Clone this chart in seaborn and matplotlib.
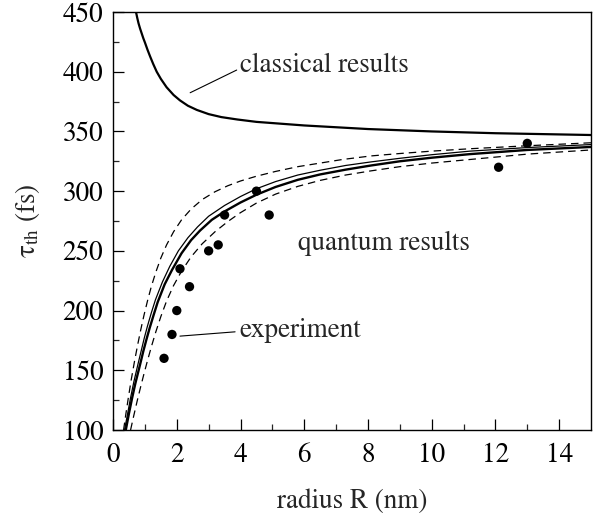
import numpy as np
import pandas as pd
import matplotlib
matplotlib.use("Agg")
import matplotlib.pyplot as plt
import seaborn as sns

# values
classical_r = [0.72, 0.76, 0.80, 0.85, 0.90, 0.95, 1.0, 1.08, 1.16, 1.26, 1.37, 1.5, 1.68, 1.9, 2.1,
               2.35, 2.63, 3.0, 3.4, 3.9, 4.5, 5.0, 6.0, 7.0, 8.0, 10.0, 12.0, 15.0]
classical_t = [450, 445, 440.5, 436, 432, 428, 424.5, 418.5, 413, 406.5, 400, 394, 387, 380.5, 376,
               371.5, 368, 364.5, 362, 360, 358, 357, 355, 353.5, 352, 350, 348.5, 347]

thick_r = [0.40, 0.50, 0.60, 0.70, 0.85, 0.95, 1.05, 1.15, 1.27, 1.40, 1.62, 1.85, 2.15, 2.45, 2.73,
           3.1, 3.5, 4.0, 4.5, 5.1, 5.8, 6.5, 7.3, 8.1, 9.0, 10.0, 11.2, 13.0, 15.0]
thick_t = [100, 114, 127, 139, 155, 166, 176, 185.5, 196, 207, 222, 234, 248, 259, 267,
           276, 283, 290.5, 297, 303.5, 309.5, 314, 318, 321.5, 325, 328, 331, 334.5, 337]

thin_r = [0.36, 0.46, 0.55, 0.65, 0.79, 0.89, 0.98, 1.08, 1.20, 1.33, 1.55, 1.78, 2.05, 2.35, 2.65,
          3.0, 3.5, 4.0, 4.5, 5.1, 5.8, 6.5, 7.3, 8.1, 9.0, 10.0, 11.2, 13.0, 15.0]
thin_t = [100, 114, 127, 140, 156, 167, 177, 187, 198, 209, 224, 237, 250, 261, 270,
          279, 288, 295.5, 302, 308, 313.5, 317.5, 321.5, 324.5, 327.5, 330.5, 333.5, 336.5, 339]

dash_up_r = [0.33, 0.40, 0.48, 0.57, 0.67, 0.77, 0.87, 0.97, 1.08, 1.20, 1.34, 1.50, 1.68, 1.90, 2.15,
             2.45, 2.8, 3.2, 3.6, 4.0, 4.5, 5.1, 5.8, 6.5, 7.2, 8.1, 9.0, 10.0, 11.2, 13.0, 15.0]
dash_up_t = [100, 113, 127, 142, 157, 171, 184, 196, 208, 220, 232, 244, 255, 266, 276,
             285, 293, 299.5, 304.5, 308.5, 312.5, 316.5, 320.5, 323.5, 326.5, 329.5, 331.5, 333.5, 335.5, 338, 340.5]

dash_lo_r = [0.55, 0.65, 0.75, 0.86, 0.97, 1.08, 1.20, 1.34, 1.50, 1.68, 1.90, 2.15, 2.45, 2.8,
             3.2, 3.6, 4.0, 4.5, 5.1, 5.8, 6.5, 7.3, 8.1, 9.0, 10.0, 11.2, 13.0, 15.0]
dash_lo_t = [100, 112, 123.5, 135.5, 147, 158, 169.5, 182, 195, 208, 221, 233, 245, 256,
             266, 274.5, 282, 290, 297.5, 304, 309, 313.5, 317, 320.5, 323.5, 326.5, 331, 334.5]

exp_r = [1.6, 1.85, 2.0, 2.1, 2.4, 3.0, 3.3, 3.5, 4.5, 4.9, 12.1, 13.0]
exp_t = [160, 180, 200, 235, 220, 250, 255, 280, 300, 280, 320, 340]

sns.set_style("ticks")
plt.rcParams["font.family"] = ["STIXGeneral", "DejaVu Serif"]
plt.rcParams["mathtext.fontset"] = "stix"

FS = 19.5

fig = plt.figure(figsize=(5.95, 5.13), dpi=100)
ax = fig.add_axes([0.19, 0.1618, 0.8033, 0.8148])

def curve(r, t, **kw):
    df = pd.DataFrame({"R": r, "tau": t})
    sns.lineplot(data=df, x="R", y="tau", ax=ax, sort=False, estimator=None, color="black", **kw)

curve(classical_r, classical_t, linewidth=1.6)
curve(dash_up_r, dash_up_t, linewidth=0.9, linestyle=(0, (6, 4)))
curve(thin_r, thin_t, linewidth=0.9)
curve(thick_r, thick_t, linewidth=1.7)
curve(dash_lo_r, dash_lo_t, linewidth=0.9, linestyle=(0, (6, 4)))

df_exp = pd.DataFrame({"R": exp_r, "tau": exp_t})
sns.scatterplot(data=df_exp, x="R", y="tau", ax=ax, color="black", s=45, edgecolor="none", zorder=5)

ax.set_xlim(0, 15)
ax.set_ylim(100, 450)
ax.set_xticks(np.arange(0, 15, 2))
ax.set_xticks(np.arange(1, 15, 2), minor=True)
ax.set_yticks(np.arange(100, 451, 50))
ax.set_yticks(np.arange(125, 450, 50), minor=True)
ax.tick_params(which="major", direction="in", length=8, width=0.9, labelsize=FS, colors="black")
ax.tick_params(which="minor", direction="in", length=4, width=0.9)
ax.tick_params(axis="y", which="major", pad=7)
ax.tick_params(axis="x", which="major", pad=9)
for s in ax.spines.values():
    s.set_visible(True)
    s.set_linewidth(1.0)
    s.set_color("black")

ax.set_xlabel("radius R (nm)", fontsize=FS, labelpad=15)
ax.set_ylabel(r"$\mathrm{\tau}_{\mathrm{th}}$ (fs)", fontsize=FS, labelpad=15)

# annotations
ax.plot([2.42, 3.88], [382.4, 401.4], color="black", linewidth=0.8)
ax.text(3.98, 405.6, "classical results", fontsize=FS, va="center", ha="left")
ax.text(5.8, 256.5, "quantum results", fontsize=FS, va="center", ha="left")
ax.plot([2.10, 3.83], [178.6, 182.2], color="black", linewidth=0.8)
ax.text(3.98, 183.7, "experiment", fontsize=FS, va="center", ha="left")

fig.savefig("out.png", dpi=100)
